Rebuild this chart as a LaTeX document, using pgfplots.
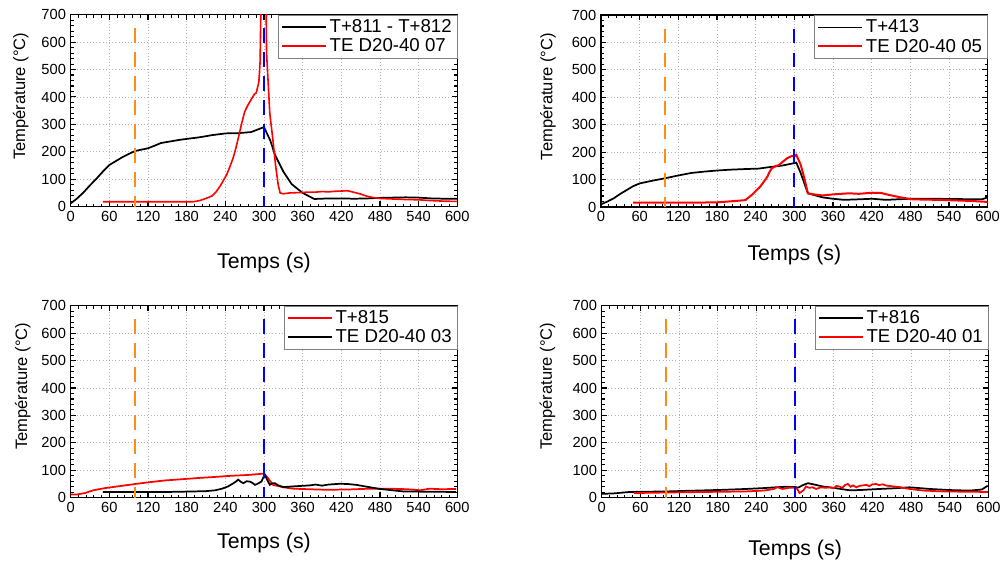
\documentclass[border=0pt]{standalone}
\usepackage{pgfplots}
\pgfplotsset{compat=1.18}
\usepackage{fontspec}
\setmainfont{Liberation Sans}
\definecolor{dashorange}{RGB}{255,140,25}
\definecolor{pred}{RGB}{255,0,0}
\definecolor{pblue}{RGB}{0,0,255}
\pgfplotsset{panel/.style={
 scale only axis, width=290pt, height=144pt,
 xmin=0,xmax=600,ymin=0,ymax=700,
 xtick={0,60,...,600}, ytick={0,100,...,700},
 minor x tick num=4, minor y tick num=4,
 tick align=inside, major tick length=4pt, minor tick length=2.2pt,
 tick style={black, line width=0.8pt},
 axis line style={line width=1pt},
 grid=major, major grid style={dotted, gray!60, line width=0.6pt},
 /pgf/number format/assume math mode=true,
 tick label style={font=\fontsize{11}{13}\selectfont},
 xlabel={Temps (s)}, ylabel={Température (°C)},
 xlabel style={font=\fontsize{16}{19}\selectfont, at={(axis description cs:0.5,0)}, anchor=center},
 ylabel style={font=\fontsize{12.4}{15}\selectfont, anchor=center},
 legend style={at={(rel axis cs:1,1)}, anchor=north east, draw=gray,
   font=\fontsize{14}{16.5}\selectfont, row sep=-1pt, inner xsep=2pt, inner ysep=1.5pt},
 legend cell align=left,
 legend image code/.code={\draw[#1] (0pt,0pt) -- (33pt,0pt);},
}}
\pgfplotsset{vdash/.style={line width=1.5pt, dash pattern=on 11pt off 7pt, forget plot}}
\begin{document}
\begin{tikzpicture}
\useasboundingbox (0,0) rectangle (754.5pt,-426pt);
% ---------- top left
\begin{axis}[panel, at={(53pt,-11pt)}, anchor=north west,
  xlabel style={yshift=-42pt}, ylabel style={at={(axis description cs:-0.129,0.575)}}]
\addplot[black, line width=1.3pt] coordinates {
(0,12) (10,30) (20,52) (30,78) (40,102) (50,128) (60,152) (70,166) (80,180) (90,192) (100,203) (110,208) (120,213) (130,222) (140,232) (150,236) (160,240) (170,244) (180,247) (190,250) (200,253) (210,257) (220,261) (230,264) (240,267) (250,268) (260,268) (270,270) (280,272) (290,281) (300,290) (310,240) (317,189) (330,128) (343,82) (360,50) (378,28) (400,30) (420,30) (440,29) (460,30) (480,32) (500,33) (520,34) (540,33) (560,30) (580,29) (600,29)};
\addlegendentry{T+811 - T+812}
\addplot[pred, line width=1.2pt] coordinates {
(50,18) (100,18) (150,18) (190,18) (200,22) (210,30) (220,40) (226,55) (232,75) (238,100) (242,116) (247,145) (252,177) (256,210) (260,249) (265,300) (270,346) (275,370) (281,394) (285,410) (288,415) (292,454) (293,490) (294,530) (295,700) (296,800) (303,800) (304,560) (309,340) (314,240) (318,150) (322,80) (325,50) (330,47) (340,50) (350,51) (360,52) (370,53) (380,53) (390,55) (400,54) (410,56) (420,57) (430,58) (440,52) (450,46) (460,38) (470,33) (480,30) (500,28) (520,26) (540,25) (560,22) (580,20) (600,19)};
\addlegendentry{TE D20-40 07}
\addplot[dashorange, vdash] coordinates {(100,650) (100,0)};
\addplot[pblue, vdash] coordinates {(300,650) (300,0)};
\end{axis}
% ---------- top right
\begin{axis}[panel, at={(450.75pt,-11.25pt)}, anchor=north west,
  xlabel style={yshift=-36pt}, ylabel style={at={(axis description cs:-0.137,0.575)}}]
\addplot[black, line width=1.3pt] coordinates {
(0,10) (10,20) (20,32) (30,48) (40,62) (50,76) (60,86) (80,96) (100,105) (120,115) (140,124) (160,129) (180,133) (200,136) (220,138) (245,140) (260,145) (281,151) (300,160) (303,162) (310,123) (321,50) (330,44) (344,35) (360,30) (377,26) (400,28) (421,30) (442,26) (460,28) (480,30) (519,30) (550,29) (591,28) (600,35)};
\addlegendentry{T+413}
\addplot[pred, line width=1.5pt] coordinates {
(50,16) (100,16) (150,16) (180,17) (209,22) (224,25) (234,44) (240,58) (247,74) (252,90) (258,110) (262,130) (265,141) (270,148) (276,153) (282,165) (289,178) (295,185) (301,186) (303,190) (306,175) (310,153) (315,110) (321,50) (330,46) (344,42) (360,46) (385,50) (400,48) (421,52) (435,51) (447,44) (465,35) (483,28) (500,27) (524,26) (550,24) (575,22) (596,19) (600,19)};
\addlegendentry{TE D20-40 05}
\addplot[dashorange, vdash] coordinates {(100,650) (100,0)};
\addplot[pblue, vdash] coordinates {(300,650) (300,0)};
\end{axis}
% ---------- bottom left
\begin{axis}[panel, at={(53pt,-229.3pt)}, anchor=north west,
  xlabel style={yshift=-34pt}, ylabel style={at={(axis description cs:-0.124,0.58)}}]
\addplot[pred, line width=1.3pt] coordinates {
(0,12) (10,12) (22,17) (35,27) (53,35) (75,42) (100,50) (120,56) (146,63) (170,67) (198,72) (225,76) (249,80) (275,83) (300,88) (305,75) (314,47) (330,38) (345,33) (370,31) (397,29) (430,30) (464,33) (490,33) (511,32) (530,30) (542,27) (557,33) (575,31) (598,32)};
\addlegendentry{T+815}
\addplot[black, line width=1.3pt] coordinates {
(50,21) (100,21) (150,21) (193,23) (210,24) (224,27) (235,33) (244,41) (252,52) (257,60) (260,66) (264,58) (268,53) (273,60) (278,59) (282,54) (286,47) (291,52) (296,59) (301,84) (305,65) (309,47) (313,53) (317,53) (322,45) (330,39) (350,42) (371,45) (380,48) (390,44) (400,48) (418,51) (430,50) (443,47) (460,40) (480,32) (500,27) (516,23) (550,22) (598,21)};
\addlegendentry{TE D20-40 03}
\addplot[dashorange, vdash] coordinates {(100,650) (100,0)};
\addplot[pblue, vdash] coordinates {(300,650) (300,0)};
\end{axis}
% ---------- bottom right
\begin{axis}[panel, at={(451.3pt,-229.3pt)}, anchor=north west,
  xlabel style={yshift=-39pt}, ylabel style={at={(axis description cs:-0.14,0.58)}}]
\addplot[black, line width=1.3pt] coordinates {
(0,14) (20,16) (43,21) (70,22) (102,23) (130,25) (162,27) (190,29) (224,32) (250,35) (270,38) (285,40) (300,39) (305,37) (312,46) (320,53) (330,48) (343,41) (360,36) (385,27) (400,28) (431,32) (450,34) (478,38) (509,32) (540,28) (571,26) (590,30) (599,44)};
\addlegendentry{T+816}
\addplot[pred, line width=1.3pt] coordinates {
(50,17) (100,19) (162,21) (224,23) (250,26) (260,29) (268,33) (273,39) (277,34) (281,32) (290,36) (300,36) (303,33) (307,17) (310,22) (313,27) (317,41) (322,36) (327,38) (333,32) (340,38) (348,36) (353,38) (360,35) (364,43) (369,41) (373,36) (378,47) (382,50) (386,40) (390,45) (395,38) (400,43) (405,45) (411,47) (415,42) (420,49) (426,50) (430,46) (436,49) (442,44) (450,42) (462,39) (475,33) (488,29) (500,26) (529,23) (560,22) (599,21)};
\addlegendentry{TE D20-40 01}
\addplot[dashorange, vdash] coordinates {(100,650) (100,0)};
\addplot[pblue, vdash] coordinates {(300,650) (300,0)};
\end{axis}
\end{tikzpicture}
\end{document}
